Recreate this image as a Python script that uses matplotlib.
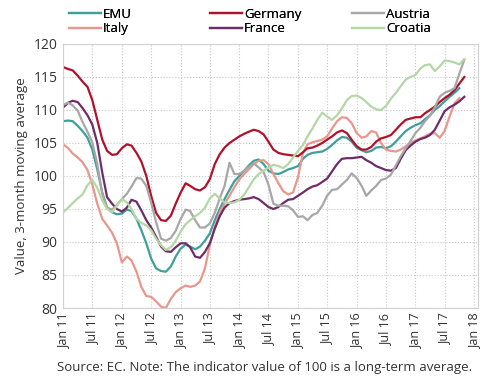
import numpy as np
import pandas as pd
import matplotlib
matplotlib.use('Agg')
import matplotlib.pyplot as plt
import matplotlib.dates as mdates

# monthly values, Jan 2011 - Nov 2017 (3-month moving average)
months = pd.date_range('2011-01-01', periods=83, freq='MS')

emu = [108.3, 108.4, 108.3, 107.6, 106.8, 105.8, 104.0, 101.0, 97.5, 95.2,
       94.5, 94.2, 94.3, 94.9, 94.7, 93.5, 91.8, 89.8, 87.5, 86.0,
       85.6, 85.5, 86.3, 87.8, 89.0, 89.6, 89.3, 88.9, 89.3, 90.2,
       91.3, 93.3, 95.0, 96.5, 97.9, 99.2, 100.0, 100.8, 101.6, 102.3,
       102.5, 101.8, 100.8, 100.4, 100.3, 100.6, 101.0, 101.2, 101.5, 102.6,
       103.2, 103.5, 103.6, 103.7, 104.1, 104.7, 105.4, 105.9, 105.8, 105.2,
       104.3, 103.9, 103.6, 103.8, 104.3, 104.4, 104.2, 104.5, 105.2, 106.0,
       106.8, 107.3, 107.7, 108.0, 108.6, 109.2, 110.0, 110.6, 111.3, 112.0,
       112.6, 113.3, np.nan]

italy = [104.8, 104.2, 103.4, 102.8, 102.1, 100.9, 98.7, 95.8, 93.5, 92.5,
         91.4, 89.8, 86.9, 87.8, 87.2, 85.5, 83.2, 81.8, 81.7, 81.0,
         80.2, 80.0, 81.4, 82.4, 83.0, 83.4, 83.2, 83.4, 84.0, 86.0,
         89.5, 92.3, 94.5, 95.8, 97.0, 98.3, 99.5, 100.3, 101.0, 101.8,
         102.3, 102.4, 101.8, 100.3, 98.9, 97.7, 97.2, 97.5, 99.8, 103.5,
         104.8, 105.1, 105.3, 105.5, 106.0, 107.2, 108.3, 108.9, 108.8, 108.0,
         106.5, 105.8, 106.0, 106.8, 106.6, 105.0, 104.0, 103.8, 103.7, 104.0,
         104.5, 105.0, 105.4, 105.7, 106.0, 106.4, 106.5, 105.8, 106.8, 109.0,
         111.0, 111.8, np.nan]

germany = [116.5, 116.2, 116.0, 115.2, 114.3, 113.5, 111.5, 108.5, 105.5, 103.8,
           103.2, 103.3, 104.2, 104.8, 104.6, 103.5, 102.2, 100.0, 97.0, 94.4,
           93.3, 93.2, 94.0, 95.8, 97.5, 98.9, 98.5, 98.0, 97.8, 98.3,
           99.5, 101.8, 103.3, 104.3, 105.0, 105.5, 106.0, 106.4, 106.7, 107.0,
           106.8, 106.3, 105.2, 104.0, 103.5, 103.3, 103.2, 103.1, 103.0, 103.6,
           104.2, 104.3, 104.6, 105.0, 105.5, 106.0, 106.6, 106.9, 106.5, 105.5,
           104.5, 104.0, 104.0, 104.4, 105.2, 105.7, 105.9, 106.2, 107.0, 107.8,
           108.5, 108.7, 108.9, 108.9, 109.5, 110.0, 110.5, 111.2, 111.8, 112.3,
           113.0, 114.0, 115.0]

france = [110.4, 111.1, 111.4, 111.2, 110.3, 109.2, 107.8, 105.0, 100.5, 96.8,
          95.8, 95.0, 94.6, 95.2, 96.4, 96.1, 94.8, 93.3, 92.2, 90.8,
          89.3, 88.6, 88.5, 89.2, 89.8, 89.8, 89.2, 87.8, 87.6, 88.5,
          89.8, 92.0, 93.9, 95.2, 95.9, 96.2, 96.4, 96.5, 96.6, 96.8,
          96.5, 95.9, 95.3, 95.0, 95.3, 95.9, 96.4, 96.5, 97.0, 97.5,
          98.0, 98.4, 98.6, 99.1, 99.6, 100.7, 101.8, 102.6, 102.7, 102.7,
          102.8, 102.9, 102.4, 102.0, 101.5, 101.2, 100.9, 100.8, 101.2, 102.6,
          103.9, 104.6, 105.2, 105.6, 105.8, 106.2, 107.0, 108.4, 109.8, 110.4,
          110.8, 111.3, 112.0]

austria = [110.8, 111.1, 110.7, 109.9, 108.2, 106.7, 105.1, 101.8, 97.3, 95.2,
           94.9, 95.6, 96.5, 97.3, 98.4, 99.7, 99.6, 98.5, 96.0, 93.0,
           90.5, 90.2, 90.6, 91.7, 93.5, 94.9, 94.7, 93.3, 92.2, 92.2,
           92.8, 94.4, 96.6, 98.5, 102.0, 100.3, 100.3, 100.8, 101.4, 101.9,
           101.3, 100.6, 98.7, 95.8, 95.5, 95.5, 95.4, 94.8, 93.8, 93.9,
           93.3, 94.1, 94.4, 95.5, 97.0, 97.9, 98.0, 98.7, 99.4, 100.4,
           99.7, 98.5, 97.0, 97.8, 98.5, 99.4, 99.6, 100.2, 101.6, 103.0,
           104.2, 105.3, 106.5, 107.3, 108.3, 109.1, 110.4, 112.0, 112.6, 112.9,
           113.3, 115.5, 117.6]

croatia = [94.5, 95.2, 95.9, 96.6, 97.2, 98.6, 99.4, 98.2, 96.3, 95.0,
           94.5, 95.5, 96.5, 96.0, 95.0, 93.5, 92.9, 92.5, 91.8, 90.5,
           89.5, 88.8, 89.2, 90.2, 91.6, 92.7, 93.3, 93.9, 94.4, 95.2,
           96.6, 97.3, 96.6, 96.0, 95.9, 96.0, 96.4, 97.2, 98.3, 99.5,
           100.3, 100.8, 101.3, 101.7, 101.5, 101.2, 101.8, 102.8, 103.8, 104.7,
           106.0, 107.2, 108.5, 109.6, 109.0, 108.5, 109.2, 110.2, 111.5, 112.1,
           112.2, 111.8, 111.2, 110.5, 110.1, 110.0, 110.6, 111.7, 112.6, 113.6,
           114.6, 115.0, 115.3, 116.3, 116.8, 116.9, 115.9, 116.6, 117.5, 117.4,
           117.2, 116.9, 117.7]

series = [('EMU', emu, '#3e9f9b'),
          ('Italy', italy, '#e9968d'),
          ('Germany', germany, '#b0112b'),
          ('France', france, '#6e2c69'),
          ('Austria', austria, '#a7a7a7'),
          ('Croatia', croatia, '#b4d7a6')]

plt.rcParams['font.family'] = ['Open Sans', 'DejaVu Sans']

fig = plt.figure(figsize=(4.9, 3.81), dpi=100)
ax = fig.add_axes([0.129, 0.1916, 0.8465, 0.693])

lines = []
for name, vals, col in series:
    ln, = ax.plot(months, vals, color=col, lw=1.6, label=name)
    lines.append(ln)

ax.set_ylim(80, 120)
ax.set_yticks(range(80, 121, 5))
ax.set_xlim(pd.Timestamp('2011-01-01'), pd.Timestamp('2018-01-25'))
ticks = pd.date_range('2011-01-01', '2018-01-01', freq='6MS')
ax.set_xticks(ticks)
ax.xaxis.set_major_formatter(mdates.DateFormatter('%b %y'))
plt.setp(ax.get_xticklabels(), rotation=90)
ax.tick_params(length=0, labelsize=9, colors='#333333', pad=4)
ax.tick_params(axis='y', labelsize=10)

ax.grid(True, color='#c8c8c8', ls=':', lw=0.8)
for s in ax.spines.values():
    s.set_color('#d0d0d0')

ax.set_ylabel('Value, 3-month moving average', fontsize=9.5, color='#333333')

# legend: three equal-width columns of two entries
for i, x0 in enumerate([0.117, 0.405, 0.695]):
    leg = fig.legend(lines[2 * i:2 * i + 2], [s[0] for s in series[2 * i:2 * i + 2]],
                     loc='upper left', bbox_to_anchor=(x0, 1.01), frameon=False,
                     fontsize=9.5, handlelength=2.4, handletextpad=0.15,
                     labelspacing=0.1)
    fig.add_artist(leg)

fig.text(0.539, 0.018, 'Source: EC. Note: The indicator value of 100 is a long-term average.',
         ha='center', va='bottom', fontsize=9.5, color='#333333')

fig.savefig('out.png', dpi=100)
